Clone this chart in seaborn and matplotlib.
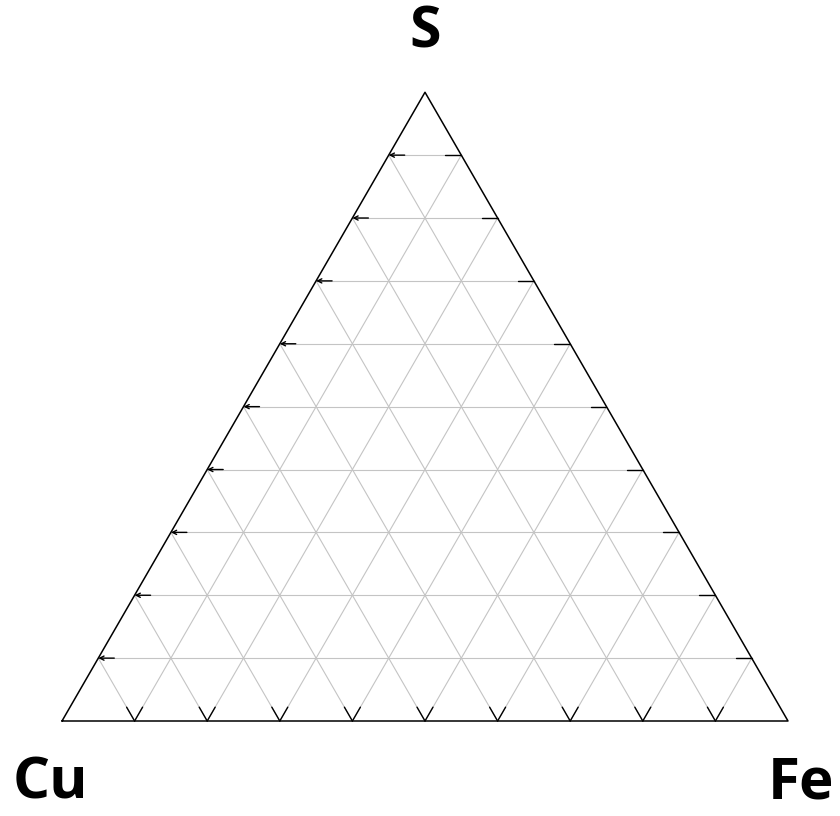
import numpy as np
import pandas as pd
import seaborn as sns
import matplotlib.pyplot as plt

# ternary diagram: corners and grid steps
corners = ["Cu", "Fe", "S"]
steps = [0.1, 0.2, 0.3, 0.4, 0.5, 0.6, 0.7, 0.8, 0.9]
tick_len = 0.022

sns.set_style("white")
plt.rcParams["font.family"] = ["Open Sans", "DejaVu Sans"]

fig = plt.figure(figsize=(8.4, 8.16), dpi=100)
ax = fig.add_axes([0, 0, 1, 1])
h = np.sqrt(3) / 2


def tern(fe, s):
    # cartesian position from Fe and S fractions (Cu at origin)
    return fe + s / 2, s * h


grid = "#c4c4c4"
lw = 0.8
rows = []
for i, t in enumerate(steps):
    # constant S (horizontal)
    x0, y0 = tern(0, t)
    x1, y1 = tern(1 - t, t)
    rows += [(f"s{i}", x0, y0), (f"s{i}", x1, y1)]
    # constant Fe (parallel to left edge)
    x0, y0 = tern(t, 0)
    x1, y1 = tern(t, 1 - t)
    rows += [(f"f{i}", x0, y0), (f"f{i}", x1, y1)]
    # constant Cu (parallel to right edge)
    x0, y0 = tern(1 - t, 0)
    x1, y1 = tern(0, 1 - t)
    rows += [(f"c{i}", x0, y0), (f"c{i}", x1, y1)]
gdf = pd.DataFrame(rows, columns=["line", "x", "y"])
sns.lineplot(data=gdf, x="x", y="y", units="line", estimator=None, sort=False,
             color=grid, lw=lw, ax=ax)

# ticks
for t in steps:
    x, y = tern(0, t)
    ax.annotate("", xy=(x, y), xytext=(x + tick_len, y),
                arrowprops=dict(arrowstyle="->,head_length=0.3,head_width=0.15",
                                color="black", lw=1.0, shrinkA=0, shrinkB=0))
    x, y = tern(1 - t, t)
    ax.plot([x - tick_len, x], [y, y], color="black", lw=1.0)
    x, y = tern(t, 0)
    ax.plot([x, x + tick_len / 2], [y, y + tick_len * h], color="black", lw=1.0)
    ax.plot([x, x - tick_len / 2], [y, y + tick_len * h], color="black", lw=1.0)

# outline
ox = [0, 1, 0.5, 0]
oy = [0, 0, h, 0]
sns.lineplot(x=ox, y=oy, sort=False, estimator=None, color="black", lw=1.1, ax=ax)

ax.text(0.5, 0.948, corners[2], ha="center", va="center", fontsize=41,
        fontweight="bold", color="black")
ax.text(-0.016, -0.126, corners[0], ha="center", va="bottom", fontsize=42,
        fontweight="bold", color="black")
ax.text(1.018, -0.126, corners[1], ha="center", va="bottom", fontsize=42,
        fontweight="bold", color="black")

ax.set_xlim(-62 / 726, 778 / 726)
ax.set_ylim(-95 / 726, 721 / 726)
ax.set_axis_off()

fig.savefig("out.png", dpi=100)
